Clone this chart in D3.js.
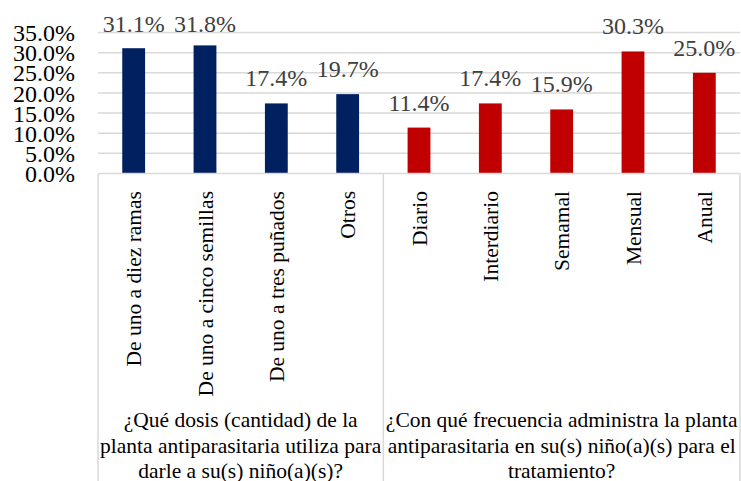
<!DOCTYPE html>
<html>
<head>
<meta charset="utf-8">
<script src="https://cdn.jsdelivr.net/npm/d3@7"></script>
<style>
  body { margin: 0; background: #fff; }
  svg { display: block; }
  svg text { font-family: 'Liberation Serif', 'Times New Roman', serif; }
</style>
</head>
<body>
<div class="chart"></div>
<script>
const categories = ['De uno a diez ramas', 'De uno a cinco semillas', 'De uno a tres puñados', 'Otros',
  'Diario', 'Interdiario', 'Semamal', 'Mensual', 'Anual'];
const values = [31.1, 31.8, 17.4, 19.7, 11.4, 17.4, 15.9, 30.3, 25.0];
const groupOf = [0, 0, 0, 0, 1, 1, 1, 1, 1];
const groupTitles = [
  ['¿Qué dosis (cantidad) de la', 'planta antiparasitaria utiliza para', 'darle a su(s) niño(a)(s)?'],
  ['¿Con qué frecuencia administra la planta', 'antiparasitaria en su(s) niño(a)(s) para el', 'tratamiento?']
];
const groupColors = ['#002060', '#c00000'];
const yTicks = [0, 5, 10, 15, 20, 25, 30, 35];

const width = 741;
const height = 481;
const plotLeft = 98;
const plotRight = 740;
const plotTop = 32.5;
const plotBase = 173.5;
const serif = "'Liberation Serif', 'Times New Roman', serif";

const svg = d3.select('.chart')
  .append('svg')
  .attr('width', width)
  .attr('height', height)
  .attr('font-family', serif);

const xScale = d3.scaleBand()
  .domain(d3.range(categories.length))
  .range([plotLeft, plotRight])
  .paddingInner(0.68)
  .paddingOuter(0.34);

const yScale = d3.scaleLinear()
  .domain([0, 35])
  .range([plotBase, plotTop]);

// gridlines
svg.selectAll('line.grid')
  .data(yTicks.slice(1))
  .enter()
  .append('line')
  .attr('class', 'grid')
  .attr('x1', plotLeft)
  .attr('x2', plotRight)
  .attr('y1', d => yScale(d))
  .attr('y2', d => yScale(d))
  .attr('stroke', '#d9d9d9')
  .attr('stroke-width', 1.5);

// y axis labels
const yAxis = d3.axisLeft(yScale)
  .tickValues(yTicks)
  .tickSize(0)
  .tickPadding(23)
  .tickFormat(d => d.toFixed(1) + '%');

svg.append('g')
  .attr('transform', `translate(${plotLeft},0)`)
  .call(yAxis)
  .call(g => g.select('.domain').remove())
  .attr('font-family', serif)
  .selectAll('text')
  .attr('font-size', 24)
  .attr('dy', '0.34em')
  .attr('fill', '#000');

// bars
svg.selectAll('rect.bar')
  .data(values)
  .enter()
  .append('rect')
  .attr('class', 'bar')
  .attr('x', (d, i) => xScale(i))
  .attr('y', d => yScale(d))
  .attr('width', xScale.bandwidth())
  .attr('height', d => plotBase - yScale(d))
  .attr('fill', (d, i) => groupColors[groupOf[i]]);

// value labels
svg.selectAll('text.value')
  .data(values)
  .enter()
  .append('text')
  .attr('class', 'value')
  .attr('x', (d, i) => xScale(i) + xScale.bandwidth() / 2)
  .attr('y', d => Math.max(yScale(d) - 17, 31.5))
  .attr('text-anchor', 'middle')
  .attr('font-size', 24)
  .attr('fill', '#404040')
  .text(d => d.toFixed(1) + '%');

// category box
const step = xScale.step();
const boxLines = [plotLeft, plotLeft + step * 4, plotRight];
svg.append('line')
  .attr('x1', plotLeft).attr('x2', plotRight)
  .attr('y1', plotBase).attr('y2', plotBase)
  .attr('stroke', '#d9d9d9').attr('stroke-width', 1.5);

svg.selectAll('line.sep')
  .data(boxLines)
  .enter()
  .append('line')
  .attr('class', 'sep')
  .attr('x1', d => d).attr('x2', d => d)
  .attr('y1', plotBase).attr('y2', height)
  .attr('stroke', '#d9d9d9').attr('stroke-width', 1.5);

// rotated category labels
svg.selectAll('text.cat')
  .data(categories)
  .enter()
  .append('text')
  .attr('class', 'cat')
  .attr('transform', (d, i) => `translate(${xScale(i) + xScale.bandwidth() / 2 + 7.5},191) rotate(-90)`)
  .attr('text-anchor', 'end')
  .attr('font-size', 21.5)
  .attr('fill', '#000')
  .text(d => d);

// group titles
const groupCenters = [(boxLines[0] + boxLines[1]) / 2, (boxLines[1] + boxLines[2]) / 2];
groupTitles.forEach((lines, gi) => {
  svg.append('text')
    .attr('text-anchor', 'middle')
    .attr('font-size', 21.5)
    .attr('fill', '#000')
    .selectAll('tspan')
    .data(lines)
    .enter()
    .append('tspan')
    .attr('x', groupCenters[gi])
    .attr('y', (d, i) => 427 + i * 25.5)
    .text(d => d);
});
</script>
</body>
</html>
